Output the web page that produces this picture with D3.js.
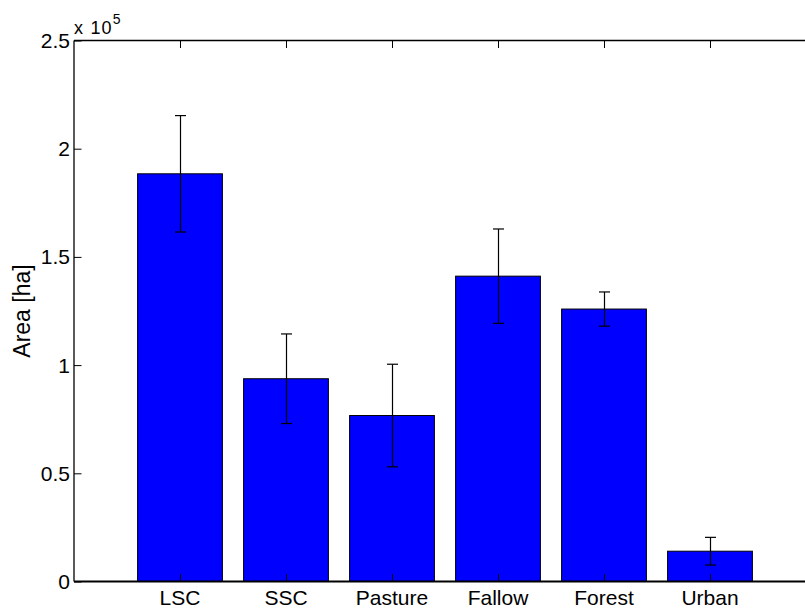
<!DOCTYPE html>
<html>
<head>
<meta charset="utf-8">
<script src="https://cdn.jsdelivr.net/npm/d3@7"></script>
<style>
  html, body { margin: 0; padding: 0; background: #fff; overflow: hidden; }
  svg { display: block; overflow: hidden; }
  text { font-family: "Liberation Sans", Arial, Helvetica, sans-serif; fill: #000; }
</style>
</head>
<body>
<div id="chart"></div>
<script>
// Land-use areas (in units of 1e5 ha) with their standard deviations
const categories = ["LSC", "SSC", "Pasture", "Fallow", "Forest", "Urban"];
const areaValues = [1.884, 0.937, 0.767, 1.411, 1.259, 0.140];
const areaErrors = [0.269, 0.207, 0.237, 0.218, 0.079, 0.064];
const yTicks = [0, 0.5, 1, 1.5, 2, 2.5];
const yTickLabels = ["0", "0.5", "1", "1.5", "2", "2.5"];

const W = 805, H = 608;
const margin = { left: 74, top: 40.5, bottom: 26.5 };
const plotRight = 816; // axes box runs on past the figure's right edge

const svg = d3.select("#chart").append("svg")
  .attr("width", W).attr("height", H);

// x positions 1..n in a [0, n+1] axis, as in a classic bar plot
const x = d3.scaleLinear()
  .domain([0, categories.length + 1])
  .range([margin.left, plotRight]);
const y = d3.scaleLinear()
  .domain([0, 2.5])
  .range([H - margin.bottom, margin.top]);

const step = x(1) - x(0);
const barW = step * 0.8;
const data = categories.map((c, i) => ({ c, i: i + 1, v: areaValues[i], e: areaErrors[i] }));

// Bars
svg.append("g").selectAll("rect").data(data).join("rect")
  .attr("x", d => x(d.i) - barW / 2)
  .attr("y", d => y(d.v))
  .attr("width", barW)
  .attr("height", d => y(0) - y(d.v))
  .attr("fill", "#0000ff")
  .attr("stroke", "#000")
  .attr("stroke-width", 1);

// Error bars
const eb = svg.append("g").attr("stroke", "#000").attr("stroke-width", 1.2);
const capW = 11;
data.forEach(d => {
  const cx = Math.round(x(d.i)) + 0.5;
  eb.append("line").attr("x1", cx).attr("x2", cx)
    .attr("y1", y(d.v + d.e)).attr("y2", y(d.v - d.e));
  [d.v + d.e, d.v - d.e].forEach(v => {
    eb.append("line").attr("x1", cx - capW / 2).attr("x2", cx + capW / 2)
      .attr("y1", y(v)).attr("y2", y(v));
  });
});

// Axes box (the right side lies outside the figure)
const yTop = y(2.5), yBottom = y(0);
const box = svg.append("g").attr("fill", "none").attr("stroke", "#000");
box.append("line").attr("x1", x(0)).attr("x2", W).attr("y1", yTop).attr("y2", yTop).attr("stroke-width", 1.3);
box.append("line").attr("x1", x(0)).attr("x2", W).attr("y1", yBottom).attr("y2", yBottom).attr("stroke-width", 2);
box.append("line").attr("x1", x(0)).attr("x2", x(0)).attr("y1", yTop).attr("y2", yBottom).attr("stroke-width", 1.3);

// Y axis: inward ticks
const tickLen = 7.5;
const yAxisL = d3.axisRight(y).tickValues(yTicks).tickSize(tickLen).tickFormat("");
svg.append("g").attr("transform", `translate(${x(0)},0)`).call(yAxisL).call(g => g.select(".domain").remove());

svg.append("g").selectAll("text").data(yTicks).join("text")
  .attr("x", x(0) - 4)
  .attr("y", d => y(d) + 7.5)
  .attr("text-anchor", "end")
  .attr("font-size", 21)
  .text((d, i) => yTickLabels[i]);

// X axis: inward ticks top and bottom, category labels below
const xTicks = data.map(d => d.i);
const xAxisB = d3.axisTop(x).tickValues(xTicks).tickSize(tickLen).tickFormat("");
const xAxisT = d3.axisBottom(x).tickValues(xTicks).tickSize(tickLen).tickFormat("");
svg.append("g").attr("transform", `translate(0,${yBottom})`).call(xAxisB).call(g => g.select(".domain").remove());
svg.append("g").attr("transform", `translate(0,${yTop})`).call(xAxisT).call(g => g.select(".domain").remove());

svg.append("g").selectAll("text").data(data).join("text")
  .attr("x", d => x(d.i))
  .attr("y", yBottom + 23.5)
  .attr("text-anchor", "middle")
  .attr("font-size", 21)
  .text(d => d.c);

// Exponent multiplier
const mult = svg.append("text").attr("x", x(0)).attr("y", yTop - 7)
  .attr("font-size", 18).attr("letter-spacing", 1.2);
mult.append("tspan").text("x 10");
mult.append("tspan").attr("dy", -10).attr("font-size", 14).attr("letter-spacing", 0).text("5");

// Y axis title
svg.append("text")
  .attr("transform", `translate(30,${(yTop + yBottom) / 2}) rotate(-90)`)
  .attr("text-anchor", "middle")
  .attr("font-size", 23)
  .text("Area [ha]");
</script>
</body>
</html>
